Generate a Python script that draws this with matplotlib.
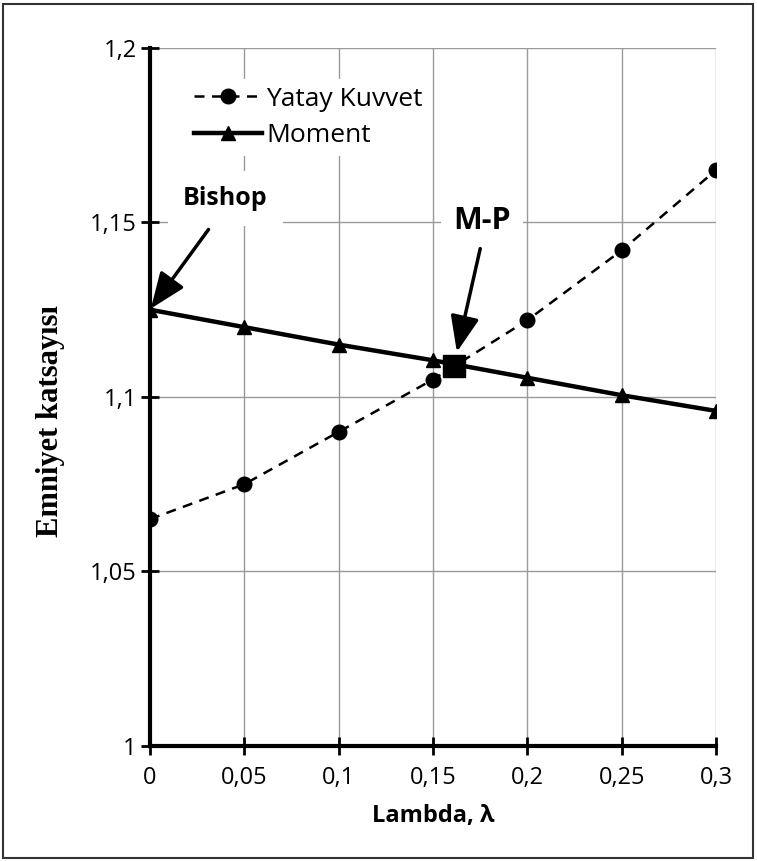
import matplotlib
matplotlib.use("agg")
import matplotlib.pyplot as plt
from matplotlib.patches import Rectangle

# lambda values and factor of safety for both equilibrium conditions
lambdas = [0, 0.05, 0.1, 0.15, 0.2, 0.25, 0.3]
yatay_kuvvet = [1.065, 1.075, 1.090, 1.105, 1.122, 1.142, 1.165]
moment = [1.125, 1.120, 1.115, 1.1105, 1.1055, 1.1005, 1.096]

# Morgenstern-Price intersection
mp_x = [0.161]
mp_y = [1.109]

x_ticks = [0, 0.05, 0.1, 0.15, 0.2, 0.25, 0.3]
x_labels = ["0", "0,05", "0,1", "0,15", "0,2", "0,25", "0,3"]
y_ticks = [1, 1.05, 1.1, 1.15, 1.2]
y_labels = ["1", "1,05", "1,1", "1,15", "1,2"]

plt.rcParams["font.family"] = ["Open Sans", "DejaVu Sans"]

fig = plt.figure(figsize=(7.57, 8.61), dpi=100)
ax = fig.add_axes([0.1982, 0.1336, 0.7477, 0.8107])

ax.plot(lambdas, yatay_kuvvet, color="black", lw=1.8, ls=(0, (4, 3)),
        marker="o", ms=10.5, label="Yatay Kuvvet", zorder=3)
ax.plot(lambdas, moment, color="black", lw=3.2, marker="^", ms=10.5,
        label="Moment", zorder=4)
ax.plot(mp_x, mp_y, "s", color="black", ms=16, zorder=5)

ax.set_xlim(0, 0.3)
ax.set_ylim(1, 1.2)
ax.set_xticks(x_ticks)
ax.set_xticklabels(x_labels)
ax.set_yticks(y_ticks)
ax.set_yticklabels(y_labels)
ax.tick_params(direction="inout", length=13, width=2, labelsize=17,
               colors="black", pad=3)
ax.tick_params(axis="x", pad=8)

ax.grid(True, color="#9a9a9a", lw=1)
ax.set_axisbelow(True)
for side in ["top", "right"]:
    ax.spines[side].set_visible(False)
for side in ["left", "bottom"]:
    ax.spines[side].set_linewidth(3)

ax.set_xlabel("Lambda, λ", fontsize=17, fontweight="bold", labelpad=10)
ax.set_ylabel("Emniyet katsayısı", fontsize=22, fontweight="bold",
              family="Liberation Serif")
ax.yaxis.set_label_coords(-0.15, 0.465)

leg = ax.legend(loc="upper left", bbox_to_anchor=(0.04, 0.975), fontsize=19,
                handlelength=2.6, handletextpad=0.15, labelspacing=0.45,
                frameon=True, fancybox=False, borderpad=0.3)
leg.get_frame().set_facecolor("white")
leg.get_frame().set_edgecolor("none")
leg.get_frame().set_alpha(1)

arrow = dict(arrowstyle="-|>,head_length=1.0,head_width=0.4", color="black",
             lw=2.5, mutation_scale=22, shrinkA=0)

ax.text(0.040, 1.157, "Bishop", fontsize=18, fontweight="bold",
        ha="center", va="center", zorder=6,
        bbox=dict(boxstyle="square,pad=0.6", fc="white", ec="none"))
ax.annotate("", xy=(lambdas[0], moment[0]), xytext=(0.031, 1.148),
            arrowprops=dict(arrow, shrinkB=1), zorder=6)

ax.text(0.176, 1.1505, "M-P", fontsize=22, fontweight="bold",
        ha="center", va="center", zorder=6,
        bbox=dict(boxstyle="square,pad=0.4", fc="white", ec="none"))
ax.annotate("", xy=(mp_x[0], mp_y[0]), xytext=(0.175, 1.1425),
            arrowprops=dict(arrow, shrinkB=10), zorder=6)

# thin frame around the whole figure
fig.patches.append(Rectangle((0.004, 0.004), 0.991, 0.991, transform=fig.transFigure,
                             fill=False, ec="#333333", lw=1.5))

fig.savefig("out.png", dpi=100)
